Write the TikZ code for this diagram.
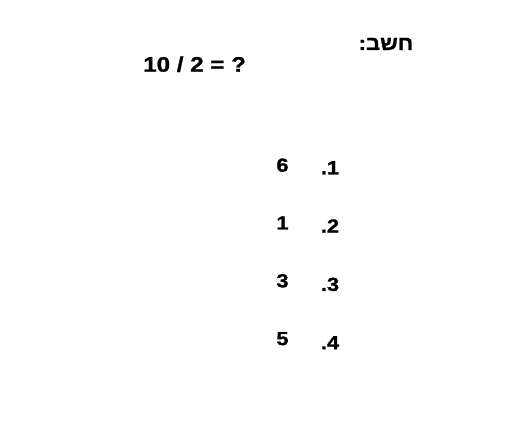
\documentclass[tikz,border=0pt]{standalone}
\usepackage{fontspec}
\newfontfamily\boldsans[FakeStretch=1.15,FakeBold=1.2]{Liberation Sans Bold}
\newfontfamily\hebfont[Script=Hebrew,FakeStretch=1.1,FakeBold=1.2]{Liberation Sans Bold}
\TeXXeTstate=1

\begin{document}
\begin{tikzpicture} [
    x=1pt, y=-1pt,
    task/.style={font=\boldsans\fontsize{21}{24}\selectfont, inner sep=0pt, anchor=base},
    head/.style={font=\hebfont\fontsize{20}{24}\selectfont, inner sep=0pt, anchor=base},
    opt/.style={font=\boldsans\fontsize{19}{22}\selectfont, inner sep=0pt, anchor=base},
    ]
    \useasboundingbox [fill=white] (0,0) rectangle (531,441);
    % Heading and question
    \node[head] (calc) at (386,50) {\beginR חשב:\endR};
    \node[task] (quest) at (194.6,71.7) {10 / 2 = ?};
    % Answers
    \foreach \n/\v [count=\i] in {1/6,2/1,3/3,4/5} {
      \node[opt] (val\i) at (282.5,{171.7+57.8*(\i-1)}) {\v};
      \node[opt] (num\i) at (330,{174.3+58.3*(\i-1)}) {.\n};
    }
  \end{tikzpicture}
\end{document}
